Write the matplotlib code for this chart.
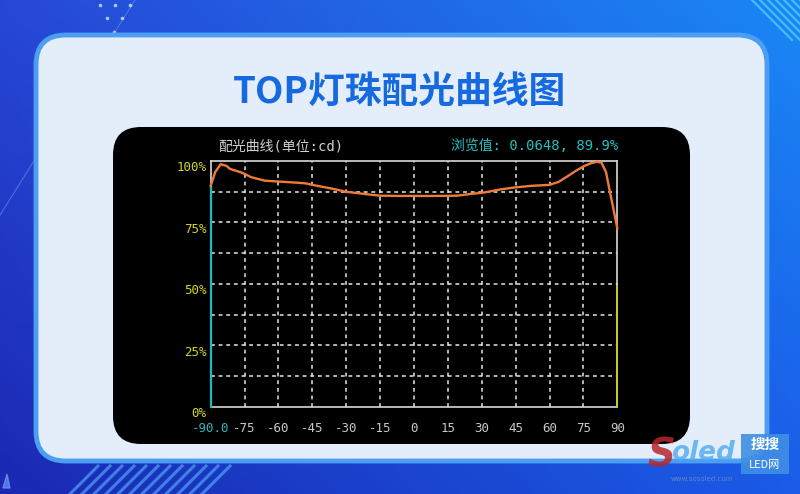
import numpy as np
import matplotlib
matplotlib.use("Agg")
import matplotlib.pyplot as plt
from matplotlib.patches import FancyBboxPatch, Polygon

# ---- data -------------------------------------------------------------
angles = [-90, -88, -85.6, -83, -81.5, -78, -76, -72, -66, -59, -52, -48, -45,
          -40, -37, -30, -21, -15, -6, 3, 10, 19, 25, 31, 38, 45, 52, 60, 64,
          68, 72, 75, 78, 81, 83, 85, 86.5, 88, 90]
intensity = [89.9, 95.5, 98.7, 98.0, 96.8, 95.8, 95.2, 93.4, 92.0, 91.6, 91.2,
             90.9, 90.3, 89.4, 88.9, 87.5, 86.5, 85.9, 85.8, 85.8, 85.8, 85.9,
             86.6, 87.2, 88.4, 89.3, 89.9, 90.3, 91.5, 93.8, 96.2, 97.8, 99.0,
             99.7, 99.3, 95.5, 88.5, 81.8, 72.6]

x_ticks = [-90, -75, -60, -45, -30, -15, 0, 15, 30, 45, 60, 75, 90]
x_tick_labels = ["-90.0", "-75", "-60", "-45", "-30", "-15", "0", "15", "30",
                 "45", "60", "75", "90"]
y_ticks = [0, 25, 50, 75, 100]
y_tick_labels = ["0%", "25%", "50%", "75%", "100%"]

cursor_angle = -90
cursor_value = 89.9
cursor_ratio = 0.0648
right_marker = 50

title = "TOP灯珠配光曲线图"
panel_caption = "配光曲线(单位:cd)"
readout = f"浏览值: {cursor_ratio:.4f}, {cursor_value:.1f}%"

# ---- figure -----------------------------------------------------------
W, H = 800, 494
fig = plt.figure(figsize=(W / 100, H / 100), dpi=100)

bg = fig.add_axes([0, 0, 1, 1])
bg.set_xlim(0, W)
bg.set_ylim(H, 0)
bg.axis("off")

# blue gradient backdrop
def hex_rgb(h):
    h = h.lstrip("#")
    return np.array([int(h[i:i + 2], 16) / 255 for i in (0, 2, 4)])

tl, tr = hex_rgb("#2748d6"), hex_rgb("#1a88f6")
bl, br = hex_rgb("#1b28b2"), hex_rgb("#1a5ce8")
u = np.linspace(0, 1, W)[None, :, None]
v = np.linspace(0, 1, H)[:, None, None]
grad = (tl * (1 - u) * (1 - v) + tr * u * (1 - v) + bl * (1 - u) * v + br * u * v)
bg.imshow(grad, extent=(0, W, H, 0), aspect="auto", zorder=0)

# decorative strokes
bg.plot([0, 135], [215, 0], color="#6d8cf0", lw=0.8, alpha=0.6, zorder=1)
for dx, dy in [(100, 5), (115, 5), (130, 5), (107, 18), (122, 18), (114, 32)]:
    bg.plot(dx, dy, "o", ms=1.6, color="#c8d8ff", alpha=0.8, zorder=1)
for k in range(7):
    x0 = 752 + k * 8
    bg.plot([x0, x0 + 40], [0, 40], color="#55d4f4", lw=1.6, alpha=0.7, zorder=1)
for k in range(12):
    x0 = 70 + k * 12
    bg.plot([x0, x0 + 28], [494, 466], color="#4a9df2", lw=2.2, alpha=0.75, zorder=1)
bg.add_patch(Polygon([[3, 488], [7, 474], [10, 488]], closed=True,
                     color="#6a9af5", alpha=0.7, zorder=1))

# light card
card = FancyBboxPatch((36, 35), 731, 426,
                      boxstyle="round,pad=0,rounding_size=30",
                      facecolor="#e4eefb", edgecolor="#4c9ef2", lw=3.5, zorder=2)
bg.add_patch(card)

# black screen area
screen = FancyBboxPatch((113, 127), 577, 317,
                        boxstyle="round,pad=0,rounding_size=28",
                        facecolor="black", edgecolor="none", zorder=3)
bg.add_patch(screen)

bg.text(400, 92, title, ha="center", va="center", fontsize=26.5,
        fontweight="bold", color="#1769e0", family=["Noto Sans CJK SC"],
        zorder=4)

mono = ["DejaVu Sans Mono", "Noto Sans CJK SC"]
bg.text(218, 146, panel_caption, ha="left", va="center", fontsize=10,
        color="#d0d0d0", family=mono, zorder=4)
bg.text(618, 146, readout, ha="right", va="center", fontsize=10,
        color="#25bfc0", family=mono, zorder=4)

# watermark
bg.text(647, 455, "S", ha="left", va="center", fontsize=28, style="italic",
        fontweight="bold", color="#b8262c", alpha=0.85, family=["DejaVu Sans"],
        zorder=5)
bg.text(671, 453, "oled", ha="left", va="center", fontsize=19, style="italic",
        fontweight="bold", color="#56aef0", alpha=0.85, family=["DejaVu Sans"],
        zorder=5)
bg.text(702, 479, "www.sosoled.com", ha="center", va="center", fontsize=5,
        color="#5f86c8", zorder=5)
bg.add_patch(FancyBboxPatch((741, 434), 48, 40, boxstyle="square,pad=0",
                            facecolor="#3f8fe4", edgecolor="none", alpha=0.9,
                            zorder=5))
bg.text(765, 444, "搜搜", ha="center", va="center", fontsize=10.5,
        fontweight="bold", color="white", family=["Noto Sans CJK SC"], zorder=6)
bg.text(765, 465, "LED网", ha="center", va="center", fontsize=8,
        color="white", family=["Noto Sans CJK SC"], zorder=6)

# ---- chart ------------------------------------------------------------
left, right, top, bottom = 210.7, 617.3, 161, 407
ax = fig.add_axes([left / W, 1 - bottom / H, (right - left) / W, (bottom - top) / H])
ax.set_facecolor("black")
ax.set_xlim(-90, 90)
ax.set_ylim(0, 100)

ax.set_xticks(x_ticks)
ax.set_xticklabels(x_tick_labels)
ax.set_yticks(y_ticks)
ax.set_yticklabels(y_tick_labels)
ax.tick_params(axis="both", which="both", length=0)
ax.tick_params(axis="x", pad=11, labelsize=9, labelcolor="#c8c8c8")
ax.tick_params(axis="y", pad=3, labelsize=9, labelcolor="#d4d42a")
for lab in ax.get_xticklabels() + ax.get_yticklabels():
    lab.set_family(mono)
for lab in ax.get_yticklabels():
    lab.set_va("top")
ax.get_xticklabels()[0].set_color("#2ab8bb")

grid_kw = dict(color="#e6e6e6", lw=1.1, dashes=(2.5, 2.5))
for xv in x_ticks[1:-1]:
    ax.axvline(xv, **grid_kw, zorder=1)
for yv in np.arange(12.5, 100, 12.5):
    ax.axhline(yv, **grid_kw, zorder=1)

for side in ("left", "right"):
    ax.spines[side].set_visible(False)
for side in ("top", "bottom"):
    ax.spines[side].set_color("#d8d8d8")
    ax.spines[side].set_linewidth(1.2)

# frame sides with cursor / marker segments
ax.plot([cursor_angle, cursor_angle], [0, cursor_value], color="#25b8bb",
        lw=1.6, zorder=3, clip_on=False)
ax.plot([-90, -90], [cursor_value, 100], color="#d8d8d8", lw=1.2, zorder=3,
        clip_on=False)
ax.plot([90, 90], [0, right_marker], color="#cccc33", lw=1.4, zorder=3,
        clip_on=False)
ax.plot([90, 90], [right_marker, 100], color="#d8d8d8", lw=1.2, zorder=3,
        clip_on=False)

ax.plot(angles, intensity, color="#f07a38", lw=1.7, zorder=4, clip_on=False)

fig.savefig("out.png", dpi=100, facecolor=fig.get_facecolor())
